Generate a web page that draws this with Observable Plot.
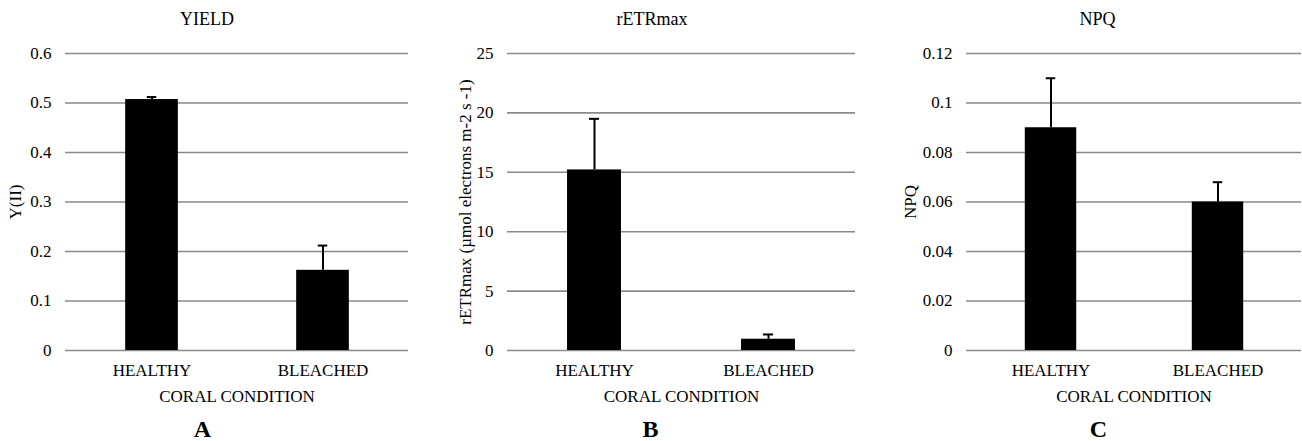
<!DOCTYPE html>
<html>
<head>
<meta charset="utf-8">
<script src="https://cdn.jsdelivr.net/npm/d3@7"></script>
<script src="https://cdn.jsdelivr.net/npm/@observablehq/plot@0.6"></script>
<style>
  html, body { margin: 0; padding: 0; background: #fff; }
  #wrap { position: relative; width: 1302px; height: 441px; overflow: hidden; }
  #wrap svg { position: absolute; top: 0; font-family: "Liberation Serif", "Times New Roman", serif !important; }
  #wrap svg text { font-family: "Liberation Serif", "Times New Roman", serif !important; }
</style>
</head>
<body>
<div id="wrap"></div>
<script>
// ---- Data ----
const categories = ["HEALTHY", "BLEACHED"];

const yieldValues = [0.507, 0.162];
const yieldErrors = [0.005, 0.05];
const yieldTicks = [0, 0.1, 0.2, 0.3, 0.4, 0.5, 0.6];

const retrValues = [15.2, 0.95];
const retrErrors = [4.3, 0.4];
const retrTicks = [0, 5, 10, 15, 20, 25];

const npqValues = [0.09, 0.06];
const npqErrors = [0.02, 0.008];
const npqTicks = [0, 0.02, 0.04, 0.06, 0.08, 0.1, 0.12];

const titles = ["YIELD", "rETRmax", "NPQ"];
const yLabels = ["Y(II)", "rETRmax (µmol electrons m-2 s -1)", "NPQ"];
const xLabel = "CORAL CONDITION";
const letters = ["A", "B", "C"];

// ---- Layout ----
const W = 434, H = 441, MT = 53, MB = 91;
const panels = [
  {left: 0,   ml: 65, mr: 26, values: yieldValues, errors: yieldErrors, ticks: yieldTicks, title: titles[0], ylabel: yLabels[0], letter: letters[0], ylDx: -50, tDx: -30, lDx: -34.5},
  {left: 434, ml: 73, mr: 13, values: retrValues,  errors: retrErrors,  ticks: retrTicks,  title: titles[1], ylabel: yLabels[1], letter: letters[1], ylDx: -42, tDx: -29.5, lDx: -31},
  {left: 868, ml: 98, mr: 1,  values: npqValues,   errors: npqErrors,   ticks: npqTicks,   title: titles[2], ylabel: yLabels[2], letter: letters[2], ylDx: -56, tDx: -36.5, lDx: -35.5}
];

const wrap = document.getElementById("wrap");
const font = "Liberation Serif";

for (const p of panels) {
  const data = categories.map((c, i) => ({cat: c, value: p.values[i], err: p.errors[i]}));
  const innerW = W - p.ml - p.mr;
  const step = innerW / categories.length;
  const barInset = (step - step * 0.31) / 2;
  const capInset = (step - 10) / 2;
  const chart = Plot.plot({
    width: W,
    height: H,
    marginTop: MT,
    marginBottom: MB,
    marginLeft: p.ml,
    marginRight: p.mr,
    style: {fontFamily: font, fontSize: "17px", color: "#000", background: "transparent", overflow: "visible"},
    x: {domain: categories, padding: 0, axis: null},
    y: {domain: [0, p.ticks[p.ticks.length - 1]], axis: null},
    marks: [
      Plot.ruleY(p.ticks, {stroke: "#8a8a8a", strokeWidth: 1.6}),
      Plot.barY(data, {x: "cat", y: "value", fill: "#000", insetLeft: barInset, insetRight: barInset}),
      Plot.ruleX(data, {x: "cat", y1: "value", y2: d => d.value + d.err, stroke: "#000", strokeWidth: 2}),
      Plot.tickY(data, {x: "cat", y: d => d.value + d.err, stroke: "#000", strokeWidth: 2, insetLeft: capInset, insetRight: capInset}),
      Plot.axisY({ticks: p.ticks, tickFormat: d => String(d), tickSize: 0, tickPadding: 14, label: null, fontSize: 17, fontFamily: font}),
      Plot.axisX({tickSize: 0, tickPadding: 13, label: null, fontSize: 17, fontFamily: font}),
      Plot.text([p.title], {text: d => d, frameAnchor: "top", lineAnchor: "middle", dy: -34, dx: p.tDx, fontSize: 18, fontFamily: font}),
      Plot.text([xLabel], {text: d => d, frameAnchor: "bottom", lineAnchor: "middle", dy: 46, fontSize: 17, fontFamily: font}),
      Plot.text([p.letter], {text: d => d, frameAnchor: "bottom", lineAnchor: "middle", dy: 79, dx: p.lDx, fontSize: 24, fontWeight: "bold", fontFamily: font}),
      Plot.text([p.ylabel], {text: d => d, frameAnchor: "left", lineAnchor: "middle", dx: p.ylDx, rotate: -90, textAnchor: "middle", fontSize: 17, fontFamily: font})
    ]
  });
  chart.style.left = p.left + "px";
  wrap.appendChild(chart);
}
</script>
</body>
</html>
